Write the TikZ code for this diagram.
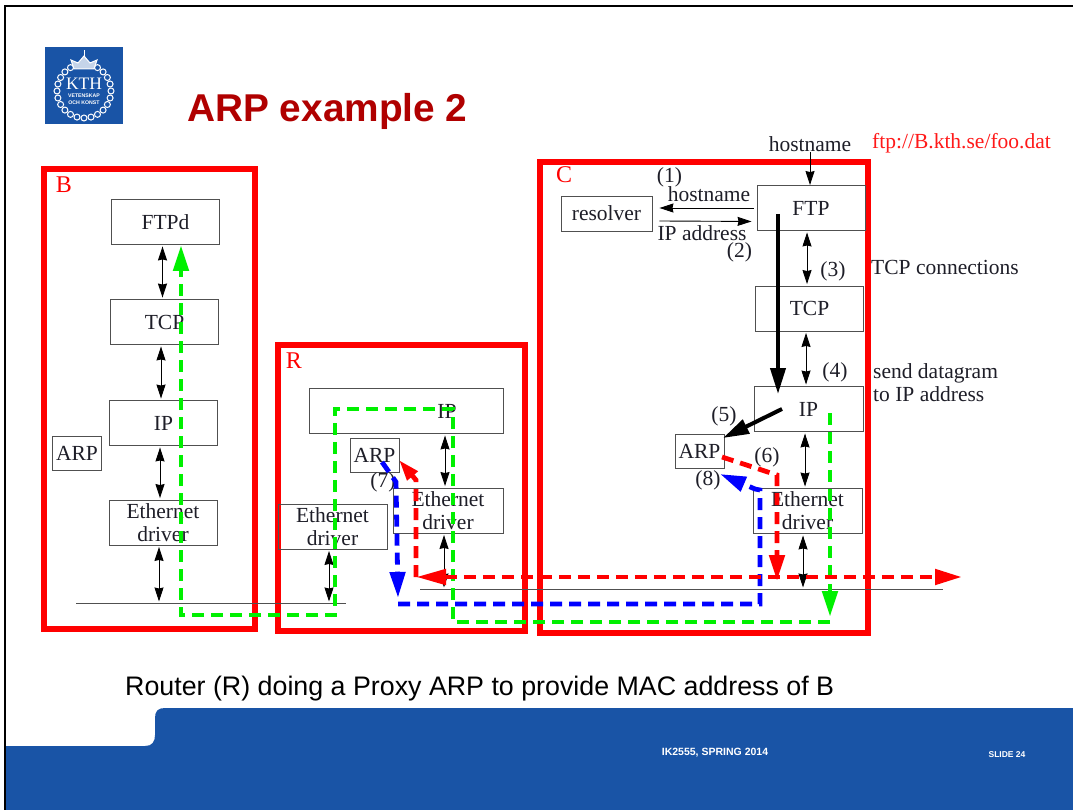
\documentclass[tikz,border=0pt]{standalone}
\usepackage{fontspec}
\setmainfont{Liberation Serif}
\newfontfamily\arialfont{Liberation Sans}
\usepackage{tikz}
\usetikzlibrary{arrows.meta}
\definecolor{kthblue}{RGB}{25, 84, 166}
\definecolor{titlered}{RGB}{176, 0, 0}
\definecolor{boxgray}{RGB}{80, 80, 80}
\definecolor{ink}{RGB}{30, 30, 40}
\definecolor{lime}{RGB}{0, 240, 0}

\begin{document}
\begin{tikzpicture}[
   x=1pt, y=-1pt,
   hostframe/.style={rectangle, draw=red, line width=5.5, inner sep=0},
   hostname/.style={text=red, inner sep=0, font=\fontsize{24}{24}\selectfont},
   box/.style={rectangle, draw=boxgray, line width=0.9, text=ink, inner sep=0, align=center,
               minimum width=108, minimum height=45, font=\fontsize{21.5}{23}\selectfont},
   arpbox/.style={box, minimum width=49, minimum height=34},
   lab/.style={text=ink, inner sep=0, font=\fontsize{21.5}{23}\selectfont},
   link/.style={{Stealth[length=14pt,width=9pt,inset=1pt]}-{Stealth[length=14pt,width=9pt,inset=1pt]},
                color=black, line width=0.9, shorten <=1.5, shorten >=1.5},
   oneway/.style={-{Stealth[length=14pt,width=9pt,inset=1pt]}, color=black, line width=0.9},
   flow/.style={line width=4.8, dash pattern=on 12 off 7},
   solidflow/.style={-{Triangle[length=26pt,width=15pt]}, color=black, line width=4},
   bigtip/.style={-{Triangle[length=26pt,width=15pt]}},
   smalltip/.style={-{Triangle[length=21pt,width=13pt]}},
   logoline/.style={draw=white, line width=1}
  ]

  \useasboundingbox (0, 0) rectangle (1073, 810);
  \fill[white] (0, 0) rectangle (1073, 810);

  % Slide
  \draw[black, line width=1.5] (5, 810) -- (5, 6) -- (1073, 6);
  \fill[kthblue] (6, 810) -- (6, 746) -- (145, 746) .. controls (152, 746) and (155, 742) .. (155, 735)
    -- (155, 718) .. controls (155, 711) and (158, 708) .. (165, 708) -- (1073, 708) -- (1073, 810) -- cycle;

  % Logo
  \fill[kthblue] (45, 47) rectangle (123, 124);
  \foreach \a in {-60, -45, ..., 240} {
    \draw[logoline] ([shift={(\a:27)}] 84, 91) circle (3);
  }
  \draw[logoline, fill=white!75!kthblue] (74, 69) -- (94, 69) -- (97, 60) -- (90, 63) -- (84, 56) -- (78, 63) -- (71, 60) -- cycle;
  \draw[logoline] (84, 56) -- (84, 50);
  \node (logoK) at (84, 84) [text=white, inner sep=0, font=\fontsize{17.5}{17.5}\selectfont] {KTH};
  \node (logoV) at (84, 96) [text=white, inner sep=0, font=\arialfont\bfseries\fontsize{5.2}{5.2}\selectfont] {VETENSKAP};
  \node (logoO) at (84, 103) [text=white, inner sep=0, font=\arialfont\bfseries\fontsize{5.2}{5.2}\selectfont] {OCH KONST};

  % Texts of the slide
  \node (title) at (187, 122) [anchor=base west, text=titlered, inner sep=0, font=\arialfont\bfseries\fontsize{38.8}{40}\selectfont] {ARP example 2};
  \node (caption) at (125, 695) [anchor=base west, text=black, inner sep=0, font=\arialfont\fontsize{26.8}{28}\selectfont] {Router (R) doing a Proxy ARP to provide MAC address of B};
  \node (course) at (715, 753) [text=white, inner sep=0, font=\arialfont\bfseries\fontsize{10.5}{11}\selectfont] {IK2555, SPRING 2014};
  \node (slide) at (1007, 755) [text=white, inner sep=0, font=\arialfont\bfseries\fontsize{8.5}{9}\selectfont] {SLIDE 24};

  % Hosts
  \node (hostB) at (149.5, 399) [hostframe, minimum width=211, minimum height=460] {};
  \node (hostR) at (401.5, 488) [hostframe, minimum width=247, minimum height=286] {};
  \node (hostC) at (704, 397.5) [hostframe, minimum width=328, minimum height=471] {};
  \node (nameB) at (64, 185) [hostname] {B};
  \node (nameR) at (294, 361) [hostname] {R};
  \node (nameC) at (564, 175) [hostname] {C};

  % Host B
  \node (ftpdB) at (165.5, 222) [box] {FTPd};
  \node (tcpB) at (164.5, 322) [box] {TCP};
  \node (ipB) at (163.5, 423) [box] {IP};
  \node (ethB) at (163, 522.5) [box] {Ethernet\\driver};
  \node (arpB) at (77, 453) [arpbox] {ARP};

  % Host R
  \node (ipR) at (406, 411) [box, minimum width=194] {};
  \node (ipRtext) at (447, 411) [lab] {IP};
  \node (arpR) at (374.5, 455) [arpbox] {ARP};
  \node (ethR) at (448, 510.5) [box, minimum width=110] {Ethernet\\driver};
  \node (ethL) at (332.5, 526.5) [box, minimum width=109] {Ethernet\\driver};

  % Host C
  \node (ftpC) at (811, 208) [box] {FTP};
  \node (tcpC) at (809.5, 308.5) [box] {TCP};
  \node (ipC) at (808.5, 409) [box, minimum width=109] {IP};
  \node (ethC) at (807.5, 511) [box, minimum width=109] {Ethernet\\driver};
  \node (arpC) at (699.5, 451) [arpbox] {ARP};
  \node (resolver) at (606.5, 213.5) [box, minimum width=91, minimum height=35] {resolver};

  % Labels
  \node (hostnameC) at (810, 144) [lab] {hostname};
  \node (url) at (961.5, 143) [lab, text=red!90!white] {ftp://B.kth.se/foo.dat};
  \node (hostnameR) at (709, 194) [lab] {hostname};
  \node (ipaddr) at (702, 233) [lab] {IP address};
  \node (tcpconn) at (871, 267) [lab, anchor=west] {TCP connections};
  \node (datagram) at (873, 383) [lab, anchor=west, align=left] {send datagram\\to IP address};
  \node (step1) at (669.5, 177) [lab] {(1)};
  \node (step2) at (739.5, 252) [lab] {(2)};
  \node (step3) at (833, 271) [lab] {(3)};
  \node (step4) at (835, 372) [lab] {(4)};
  \node (step5) at (724, 416) [lab] {(5)};
  \node (step6) at (767, 457) [lab] {(6)};
  \node (step7) at (383, 482) [lab] {(7)};
  \node (step8) at (708, 480) [lab] {(8)};

  % Wires
  \coordinate (lanLa) at (76, 603);
  \coordinate (lanLb) at (346, 603);
  \coordinate (lanRa) at (420, 589);
  \coordinate (lanRb) at (943, 589);
  \coordinate (tapB) at (159, 603);
  \coordinate (tapL) at (329, 603);
  \coordinate (tapR) at (444, 589);
  \coordinate (tapC) at (803, 589);
  \draw[boxgray, line width=0.9] (lanLa) -- (lanLb);
  \draw[boxgray, line width=0.9] (lanRa) -- (lanRb);

  \foreach \B/\E/\X in {ftpdB/tcpB/-2, tcpB/ipB/-2.5, ipB/ethB/-3, ipR/ethR/-3, ftpC/tcpC/-2.5, tcpC/ipC/-2.5, ipC/ethC/-2.5} {
    \draw[link] ([xshift=\X]\E.north |- \B.south) -- ([xshift=\X]\E.north);
  }
  \foreach \B/\E in {ethB/tapB, ethL/tapL, ethR/tapR, ethC/tapC} {
    \draw[link] (\B.south -| \E) -- (\E);
  }

  \draw[oneway] (hostnameC.south) -- (hostnameC.south |- ftpC.north);
  \draw[oneway] ([xshift=-3pt]ftpC.west) -- ([xshift=7pt]resolver.east |- ftpC.west);
  \draw[oneway] ([xshift=7pt, yshift=-7.5pt]resolver.east) -- ([xshift=-5pt, yshift=9.5pt]ftpC.south west);

  % Black steps
  \coordinate (K1) at (778, 214);
  \coordinate (K2) at (778, 394);
  \coordinate (K3) at (782, 409);
  \coordinate (K4) at (723, 438);
  \draw[solidflow] (K1) -- (K2);
  \draw[solidflow] (K3) -- (K4);

  % Green path
  \coordinate (G1) at (830, 413);
  \coordinate (G2) at (830, 617);
  \coordinate (G3) at (830, 622);
  \coordinate (G4) at (453, 622);
  \coordinate (G5) at (453, 409);
  \coordinate (G6) at (335, 409);
  \coordinate (G7) at (335, 615);
  \coordinate (G8) at (181, 615);
  \coordinate (G9) at (181, 245);
  \draw[flow, lime, bigtip] (G1) -- (G2);
  \draw[flow, lime, bigtip] (G3) -- (G4) -- (G5) -- (G6) -- (G7) -- (G8) -- (G9);

  % Blue path
  \coordinate (U1) at (382, 462);
  \coordinate (U2) at (396, 482);
  \coordinate (U3) at (398, 598);
  \coordinate (U4) at (398, 604);
  \coordinate (U5) at (760, 604);
  \coordinate (U6) at (760, 490);
  \coordinate (U7) at (755, 489);
  \coordinate (U8) at (720, 474);
  \draw[flow, blue, bigtip] (U1) -- (U2) -- (U3);
  \draw[flow, blue, bigtip] (U4) -- (U5) -- (U6) -- (U7) -- (U8);

  % Red path
  \coordinate (E1) at (416, 577);
  \coordinate (E2) at (962, 577);
  \coordinate (E3) at (416, 480);
  \coordinate (E4) at (399, 460);
  \coordinate (E5) at (722, 457);
  \coordinate (E6) at (777, 475);
  \coordinate (E7) at (777, 581);
  \draw[flow, red, {Triangle[length=30pt,width=15pt]}-{Triangle[length=27pt,width=15pt]}] (E1) -- (E2);
  \draw[flow, red, smalltip] (E1) -- (E3) -- (E4);
  \draw[flow, red, bigtip] (E5) -- (E6) -- (E7);

\end{tikzpicture}
\end{document}
